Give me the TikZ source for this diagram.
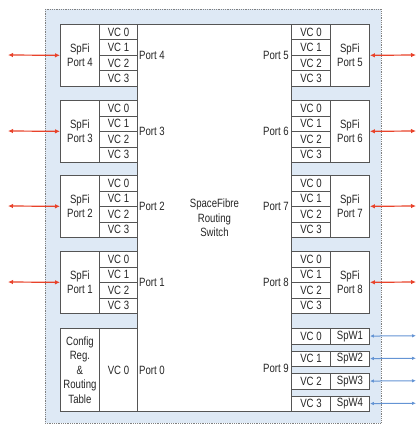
\documentclass[tikz,border=0pt]{standalone}
\usepackage{fontspec}
\newfontfamily\narrowsf{Liberation Sans}[FakeStretch=0.8]
\usetikzlibrary{arrows.meta}

\definecolor{panelblue}{RGB}{222,233,245}
\definecolor{linkred}{RGB}{232,66,42}
\definecolor{linkblue}{RGB}{100,148,212}
\definecolor{boxline}{RGB}{85,85,85}

\tikzset{
    lbl/.style={font=\narrowsf\fontsize{12}{14.5}\selectfont, text=black!85, inner sep=1pt},
    cell/.style={lbl, draw=boxline, line width=0.9pt, fill=white, align=center, anchor=north west},
    redlink/.style={<->, >={Latex[length=5pt,width=4.5pt]}, draw=linkred, line width=1.2pt},
    bluelink/.style={<->, >={Latex[length=4pt,width=3.5pt]}, draw=linkblue, line width=1pt}
}

\begin{document}
\begin{tikzpicture}[x=1pt, y=-1pt]
    \useasboundingbox (0,0) rectangle (418,425);

    % light blue panel with dotted edge
    \fill[panelblue] (45,9) rectangle (381,423);
    \draw[densely dotted, gray, line width=0.8pt] (45,9) rectangle (381,423);

    % routing switch core
    \node[cell, minimum width=154pt, minimum height=387pt] (switch) at (137,24) {SpaceFibre\\Routing\\Switch};

    % SpaceFibre ports on the left
    \foreach \n/\t in {4/24, 3/100, 2/175, 1/251} {
        \node[cell, minimum width=39pt, minimum height=62pt] (spfi\n) at (60,\t) {SpFi\\Port \n};
        \foreach \k in {0,...,3}
            \node[cell, minimum width=38pt, minimum height=15.5pt] (vc\n-\k) at (99,\t+15.5*\k) {VC \k};
        \node[lbl, anchor=west] (port\n) at (138,\t+31) {Port \n};
        \coordinate (end\n) at (8,\t+31);
        \draw[redlink] (end\n) -- (spfi\n);
    }

    % SpaceFibre ports on the right
    \foreach \n/\t in {5/24, 6/100, 7/175, 8/251} {
        \foreach \k in {0,...,3}
            \node[cell, minimum width=39pt, minimum height=15.5pt] (vc\n-\k) at (291,\t+15.5*\k) {VC \k};
        \node[cell, minimum width=39pt, minimum height=62pt] (spfi\n) at (330,\t) {SpFi\\Port \n};
        \node[lbl, anchor=east] (port\n) at (290,\t+31) {Port \n};
        \coordinate (end\n) at (416,\t+31);
        \draw[redlink] (spfi\n) -- (end\n);
    }

    % configuration port
    \node[cell, minimum width=39pt, minimum height=83pt] (config) at (60,328) {Config\\Reg.\\\&\\Routing\\Table};
    \node[cell, minimum width=38pt, minimum height=83pt] (vc0-0) at (99,328) {VC 0};
    \node[lbl, anchor=west] (port0) at (138,370) {Port 0};

    % SpaceWire links on port 9
    \foreach \k/\w/\t in {0/1/328, 1/2/350.5, 2/3/373, 3/4/395.5} {
        \node[cell, minimum width=39pt, minimum height=15.5pt] (vc9-\k) at (291,\t) {VC \k};
        \node[cell, minimum width=39pt, minimum height=15.5pt] (spw\w) at (330,\t) {SpW\w};
        \coordinate (endw\w) at (416,\t+7.75);
        \draw[bluelink] (spw\w) -- (endw\w);
    }
    \node[lbl, anchor=east] (port9) at (290,368) {Port 9};
\end{tikzpicture}
\end{document}
